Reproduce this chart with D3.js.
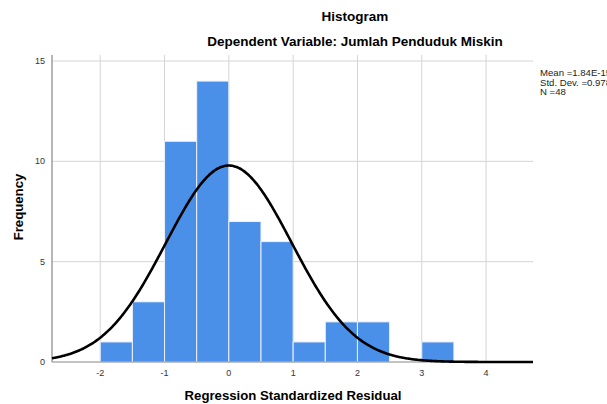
<!DOCTYPE html>
<html><head><meta charset="utf-8">
<script src="https://cdn.jsdelivr.net/npm/d3@7"></script>
<style>body{margin:0;background:#fff}svg{display:block}</style>
</head><body>
<svg id="c" width="607" height="404"></svg>
<script>
const binStarts = [-2, -1.5, -1, -0.5, 0, 0.5, 1, 1.5, 2, 2.5, 3];
const counts    = [1, 3, 11, 14, 7, 6, 1, 2, 2, 0, 1];
const binWidth = 0.5;
const xTicks = [-2, -1, 0, 1, 2, 3, 4];
const yTicks = [0, 5, 10, 15];
const stats = {mean: 1.84e-15, sd: 0.978, n: 48};
const legendLines = ["Mean =1.84E-15", "Std. Dev. =0.978", "N =48"];

const svg = d3.select("#c");
const L = 52, R = 533, T = 55, B = 362;
const x = d3.scaleLinear().domain([-2.75, 4.73]).range([L, R]);
const y = d3.scaleLinear().domain([0, 15]).range([B, 61]);
const font = "Liberation Sans, Arial, sans-serif";

// gridlines
svg.append("g").selectAll("line").data(xTicks).join("line")
  .attr("x1", d => x(d)).attr("x2", d => x(d)).attr("y1", T).attr("y2", B)
  .attr("stroke", "#d4d4d4").attr("stroke-width", 1);
svg.append("g").selectAll("line").data(yTicks.filter(d => d > 0)).join("line")
  .attr("x1", L).attr("x2", R).attr("y1", d => y(d)).attr("y2", d => y(d))
  .attr("stroke", "#d4d4d4").attr("stroke-width", 1);

// bars
svg.append("g").selectAll("rect").data(binStarts.map((s, i) => ({s, c: counts[i]})).filter(d => d.c > 0))
  .join("rect")
  .attr("x", d => x(d.s)).attr("width", d => x(d.s + binWidth) - x(d.s))
  .attr("y", d => y(d.c)).attr("height", d => y(0) - y(d.c))
  .attr("fill", "#4a8fe8").attr("stroke", "#eef2f8").attr("stroke-width", 1);

// axes lines
svg.append("line").attr("x1", L).attr("x2", L).attr("y1", T).attr("y2", B)
  .attr("stroke", "#888").attr("stroke-width", 1.2);
svg.append("line").attr("x1", L).attr("x2", R).attr("y1", B).attr("y2", B)
  .attr("stroke", "#888").attr("stroke-width", 1.2);

// normal curve
const scale = stats.n * binWidth / (stats.sd * Math.sqrt(2 * Math.PI));
const pts = d3.range(-2.75, 4.7301, 0.02).map(v => [v, scale * Math.exp(-0.5 * Math.pow((v - stats.mean) / stats.sd, 2))]);
svg.append("path").datum(pts)
  .attr("d", d3.line().x(d => x(d[0])).y(d => y(d[1])).curve(d3.curveBasis))
  .attr("fill", "none").attr("stroke", "#000").attr("stroke-width", 2.6);

// tick labels
svg.append("g").selectAll("text").data(xTicks).join("text")
  .attr("x", d => x(d)).attr("y", 376).attr("text-anchor", "middle")
  .attr("font-family", font).attr("font-size", 9).attr("fill", "#333")
  .text(d => d);
svg.append("g").selectAll("text").data(yTicks).join("text")
  .attr("x", 45).attr("y", d => y(d) + 3).attr("text-anchor", "end")
  .attr("font-family", font).attr("font-size", 9).attr("fill", "#333")
  .text(d => d);

// titles
svg.append("text").attr("x", 355).attr("y", 21).attr("text-anchor", "middle")
  .attr("font-family", font).attr("font-size", 13.5).attr("font-weight", "bold").text("Histogram");
svg.append("text").attr("x", 355).attr("y", 46).attr("text-anchor", "middle")
  .attr("font-family", font).attr("font-size", 13.5).attr("font-weight", "bold").text("Dependent Variable: Jumlah Penduduk Miskin");
svg.append("text").attr("x", 293).attr("y", 400).attr("text-anchor", "middle")
  .attr("font-family", font).attr("font-size", 13.2).attr("font-weight", "bold").text("Regression Standardized Residual");
svg.append("text").attr("transform", "translate(23,207) rotate(-90)").attr("text-anchor", "middle")
  .attr("font-family", font).attr("font-size", 13.2).attr("font-weight", "bold").text("Frequency");

// legend
svg.append("g").selectAll("text").data(legendLines).join("text")
  .attr("x", 540).attr("y", (d, i) => 76 + i * 9.5)
  .attr("font-family", font).attr("font-size", 9.6).attr("fill", "#222")
  .text(d => d);
</script>
</body></html>
